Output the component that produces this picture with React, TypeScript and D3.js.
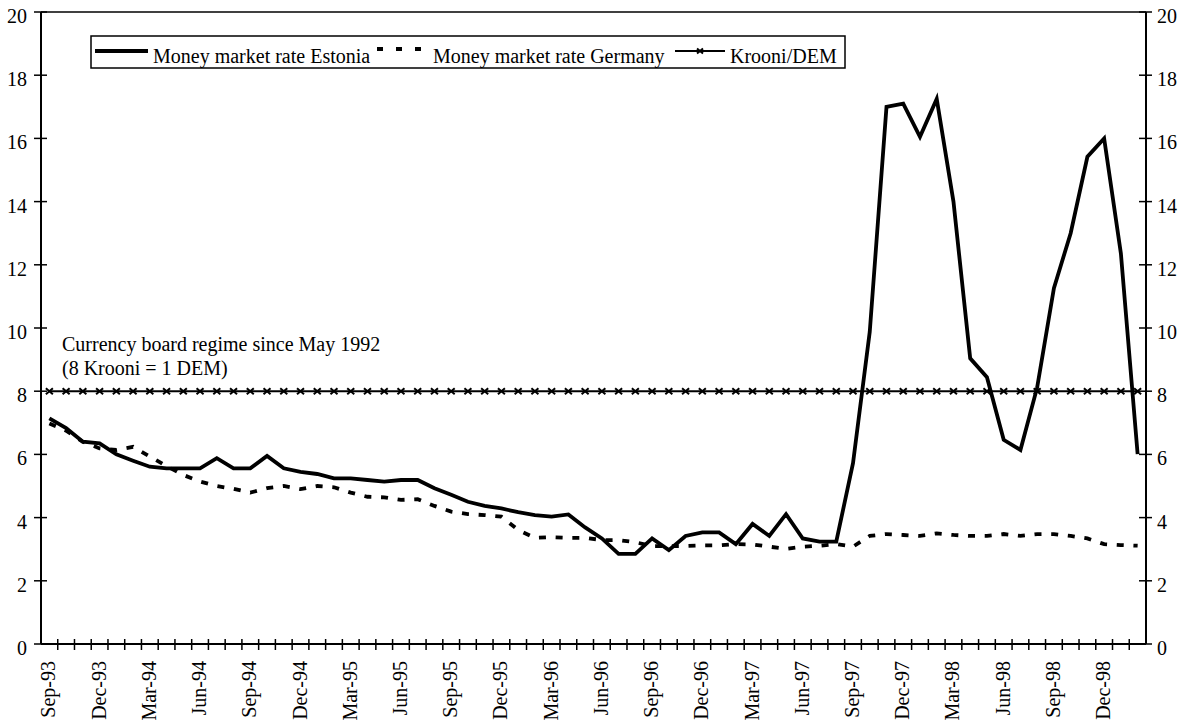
import { useRef, useEffect } from "react";
import * as d3 from "d3";

// Monthly categories Sep-93 .. Feb-99
const months = [
  "Sep-93", "Oct-93", "Nov-93", "Dec-93", "Jan-94", "Feb-94", "Mar-94", "Apr-94", "May-94", "Jun-94",
  "Jul-94", "Aug-94", "Sep-94", "Oct-94", "Nov-94", "Dec-94", "Jan-95", "Feb-95", "Mar-95", "Apr-95",
  "May-95", "Jun-95", "Jul-95", "Aug-95", "Sep-95", "Oct-95", "Nov-95", "Dec-95", "Jan-96", "Feb-96",
  "Mar-96", "Apr-96", "May-96", "Jun-96", "Jul-96", "Aug-96", "Sep-96", "Oct-96", "Nov-96", "Dec-96",
  "Jan-97", "Feb-97", "Mar-97", "Apr-97", "May-97", "Jun-97", "Jul-97", "Aug-97", "Sep-97", "Oct-97",
  "Nov-97", "Dec-97", "Jan-98", "Feb-98", "Mar-98", "Apr-98", "May-98", "Jun-98", "Jul-98", "Aug-98",
  "Sep-98", "Oct-98", "Nov-98", "Dec-98", "Jan-99", "Feb-99",
];

// only every third month is labelled
const tickLabels = months.filter((_, i) => i % 3 === 0 && i <= 63);

const estonia = [
  7.14, 6.83, 6.4, 6.35, 6.0, 5.8, 5.61, 5.56, 5.56, 5.56,
  5.88, 5.56, 5.56, 5.95, 5.56, 5.45, 5.38, 5.24, 5.24, 5.19,
  5.14, 5.19, 5.19, 4.93, 4.72, 4.5, 4.37, 4.29, 4.17, 4.08,
  4.03, 4.1, 3.69, 3.34, 2.85, 2.85, 3.34, 2.97, 3.42, 3.53,
  3.53, 3.16, 3.8, 3.42, 4.11, 3.34, 3.24, 3.24, 5.72, 9.88,
  17.0, 17.1, 16.05, 17.25, 14.0, 9.04, 8.44, 6.46, 6.14, 8.12,
  11.26, 13.0, 15.42, 16.0, 12.36, 6.01,
];

const germany = [
  6.98, 6.75, 6.4, 6.19, 6.14, 6.24, 5.93, 5.63, 5.35, 5.14,
  5.0, 4.91, 4.79, 4.93, 5.0, 4.9, 5.0, 4.96, 4.79, 4.66,
  4.64, 4.56, 4.58, 4.37, 4.19, 4.11, 4.08, 4.03, 3.61, 3.36,
  3.38, 3.36, 3.36, 3.29, 3.29, 3.22, 3.1, 3.1, 3.1, 3.12,
  3.12, 3.16, 3.15, 3.08, 3.01, 3.08, 3.11, 3.16, 3.08, 3.42,
  3.48, 3.45, 3.42, 3.5, 3.45, 3.42, 3.42, 3.48, 3.42, 3.48,
  3.48, 3.42, 3.34, 3.16, 3.13, 3.11,
];

// fixed exchange rate, 8 krooni per DEM
const krooniDem = months.map(() => 8);

const yTicks = [0, 2, 4, 6, 8, 10, 12, 14, 16, 18, 20];

const FONT = "'Liberation Serif', 'Times New Roman', serif";

export default function App() {
  const svgRef = useRef<SVGSVGElement>(null);

  useEffect(() => {
    if (!svgRef.current) return;
    const width = 1182;
    const height = 722;
    const left = 41;
    const right = 1146;
    const top = 12;
    const bottom = 644;

    const svg = d3.select(svgRef.current).attr("width", width).attr("height", height);
    svg.selectAll("*").remove();

    const x = d3.scaleBand<string>().domain(months).range([left, right]).padding(0);
    const cx = (m: string) => (x(m) || 0) + x.bandwidth() / 2;
    const y = d3.scaleLinear().domain([0, 20]).range([bottom, top]);

    const g = svg.append("g").style("font-family", FONT).style("font-size", "20px");

    // plot frame: top line + both axes
    g.append("line")
      .attr("x1", left).attr("x2", right).attr("y1", top).attr("y2", top)
      .attr("stroke", "#000").attr("stroke-width", 1.5);

    for (const ax of [left, right]) {
      g.append("line")
        .attr("x1", ax).attr("x2", ax).attr("y1", top).attr("y2", bottom)
        .attr("stroke", "#000").attr("stroke-width", 2);
      g.selectAll(null)
        .data(yTicks)
        .join("line")
        .attr("x1", ax - 7).attr("x2", ax + 6)
        .attr("y1", (d) => y(d)).attr("y2", (d) => y(d))
        .attr("stroke", "#000").attr("stroke-width", 1.5);
    }

    g.selectAll(null)
      .data(yTicks)
      .join("text")
      .attr("x", 27)
      .attr("y", (d) => y(d) + 11)
      .attr("text-anchor", "end")
      .text((d) => d);

    g.selectAll(null)
      .data(yTicks)
      .join("text")
      .attr("x", 1157)
      .attr("y", (d) => y(d) + 11)
      .attr("text-anchor", "start")
      .text((d) => d);

    // x axis with cross ticks at month boundaries
    g.append("line")
      .attr("x1", left).attr("x2", right).attr("y1", bottom).attr("y2", bottom)
      .attr("stroke", "#000").attr("stroke-width", 2);
    g.selectAll(null)
      .data(months.slice(1))
      .join("line")
      .attr("x1", (d) => x(d) || 0).attr("x2", (d) => x(d) || 0)
      .attr("y1", bottom - 5).attr("y2", bottom + 6)
      .attr("stroke", "#000").attr("stroke-width", 1.5);

    g.selectAll(null)
      .data(tickLabels)
      .join("text")
      .attr("transform", (d) => `translate(${cx(d) + 6},${661}) rotate(-90)`)
      .attr("text-anchor", "end")
      .text((d) => d);

    // annotation
    g.append("text").attr("x", 62).attr("y", 351).text("Currency board regime since May 1992");
    g.append("text").attr("x", 62).attr("y", 375).text("(8 Krooni = 1 DEM)");

    const line = d3
      .line<number>()
      .x((_, i) => cx(months[i]))
      .y((d) => y(d));

    // Krooni/DEM
    g.append("path")
      .datum(krooniDem)
      .attr("fill", "none")
      .attr("stroke", "#000")
      .attr("stroke-width", 2)
      .attr("d", line);
    g.selectAll(null)
      .data(krooniDem)
      .join("path")
      .attr("transform", (d, i) => `translate(${cx(months[i])},${y(d)})`)
      .attr("d", "M-3.5,-3L3.5,3M-3.5,3L3.5,-3")
      .attr("stroke", "#000")
      .attr("stroke-width", 2);

    // Germany dashed
    g.append("path")
      .datum(germany)
      .attr("fill", "none")
      .attr("stroke", "#000")
      .attr("stroke-width", 3.8)
      .attr("stroke-dasharray", "7 9.7")
      .attr("d", line);

    // Estonia solid
    g.append("path")
      .datum(estonia)
      .attr("fill", "none")
      .attr("stroke", "#000")
      .attr("stroke-width", 3.8)
      .attr("stroke-linejoin", "miter")
      .attr("d", line);

    // legend
    const lg = g.append("g");
    lg.append("rect")
      .attr("x", 91).attr("y", 36).attr("width", 754).attr("height", 32)
      .attr("fill", "#fff").attr("stroke", "#000").attr("stroke-width", 1.5);
    lg.append("line")
      .attr("x1", 95).attr("x2", 148).attr("y1", 51).attr("y2", 51)
      .attr("stroke", "#000").attr("stroke-width", 4);
    lg.append("text").attr("x", 153).attr("y", 63).text("Money market rate Estonia");
    lg.append("line")
      .attr("x1", 377).attr("x2", 427).attr("y1", 49).attr("y2", 49)
      .attr("stroke", "#000").attr("stroke-width", 3.8).attr("stroke-dasharray", "6 13");
    lg.append("text").attr("x", 433).attr("y", 63).text("Money market rate Germany");
    lg.append("line")
      .attr("x1", 675).attr("x2", 725).attr("y1", 51).attr("y2", 51)
      .attr("stroke", "#000").attr("stroke-width", 2);
    lg.append("path")
      .attr("transform", "translate(700,51)")
      .attr("d", "M-3,-2.5L3,2.5M-3,2.5L3,-2.5")
      .attr("stroke", "#000").attr("stroke-width", 2);
    lg.append("text").attr("x", 730).attr("y", 63).text("Krooni/DEM");
  }, []);

  return (
    <svg
      ref={svgRef}
      style={{ position: "absolute", left: 0, top: 0, display: "block", background: "#fff" }}
    />
  );
}
